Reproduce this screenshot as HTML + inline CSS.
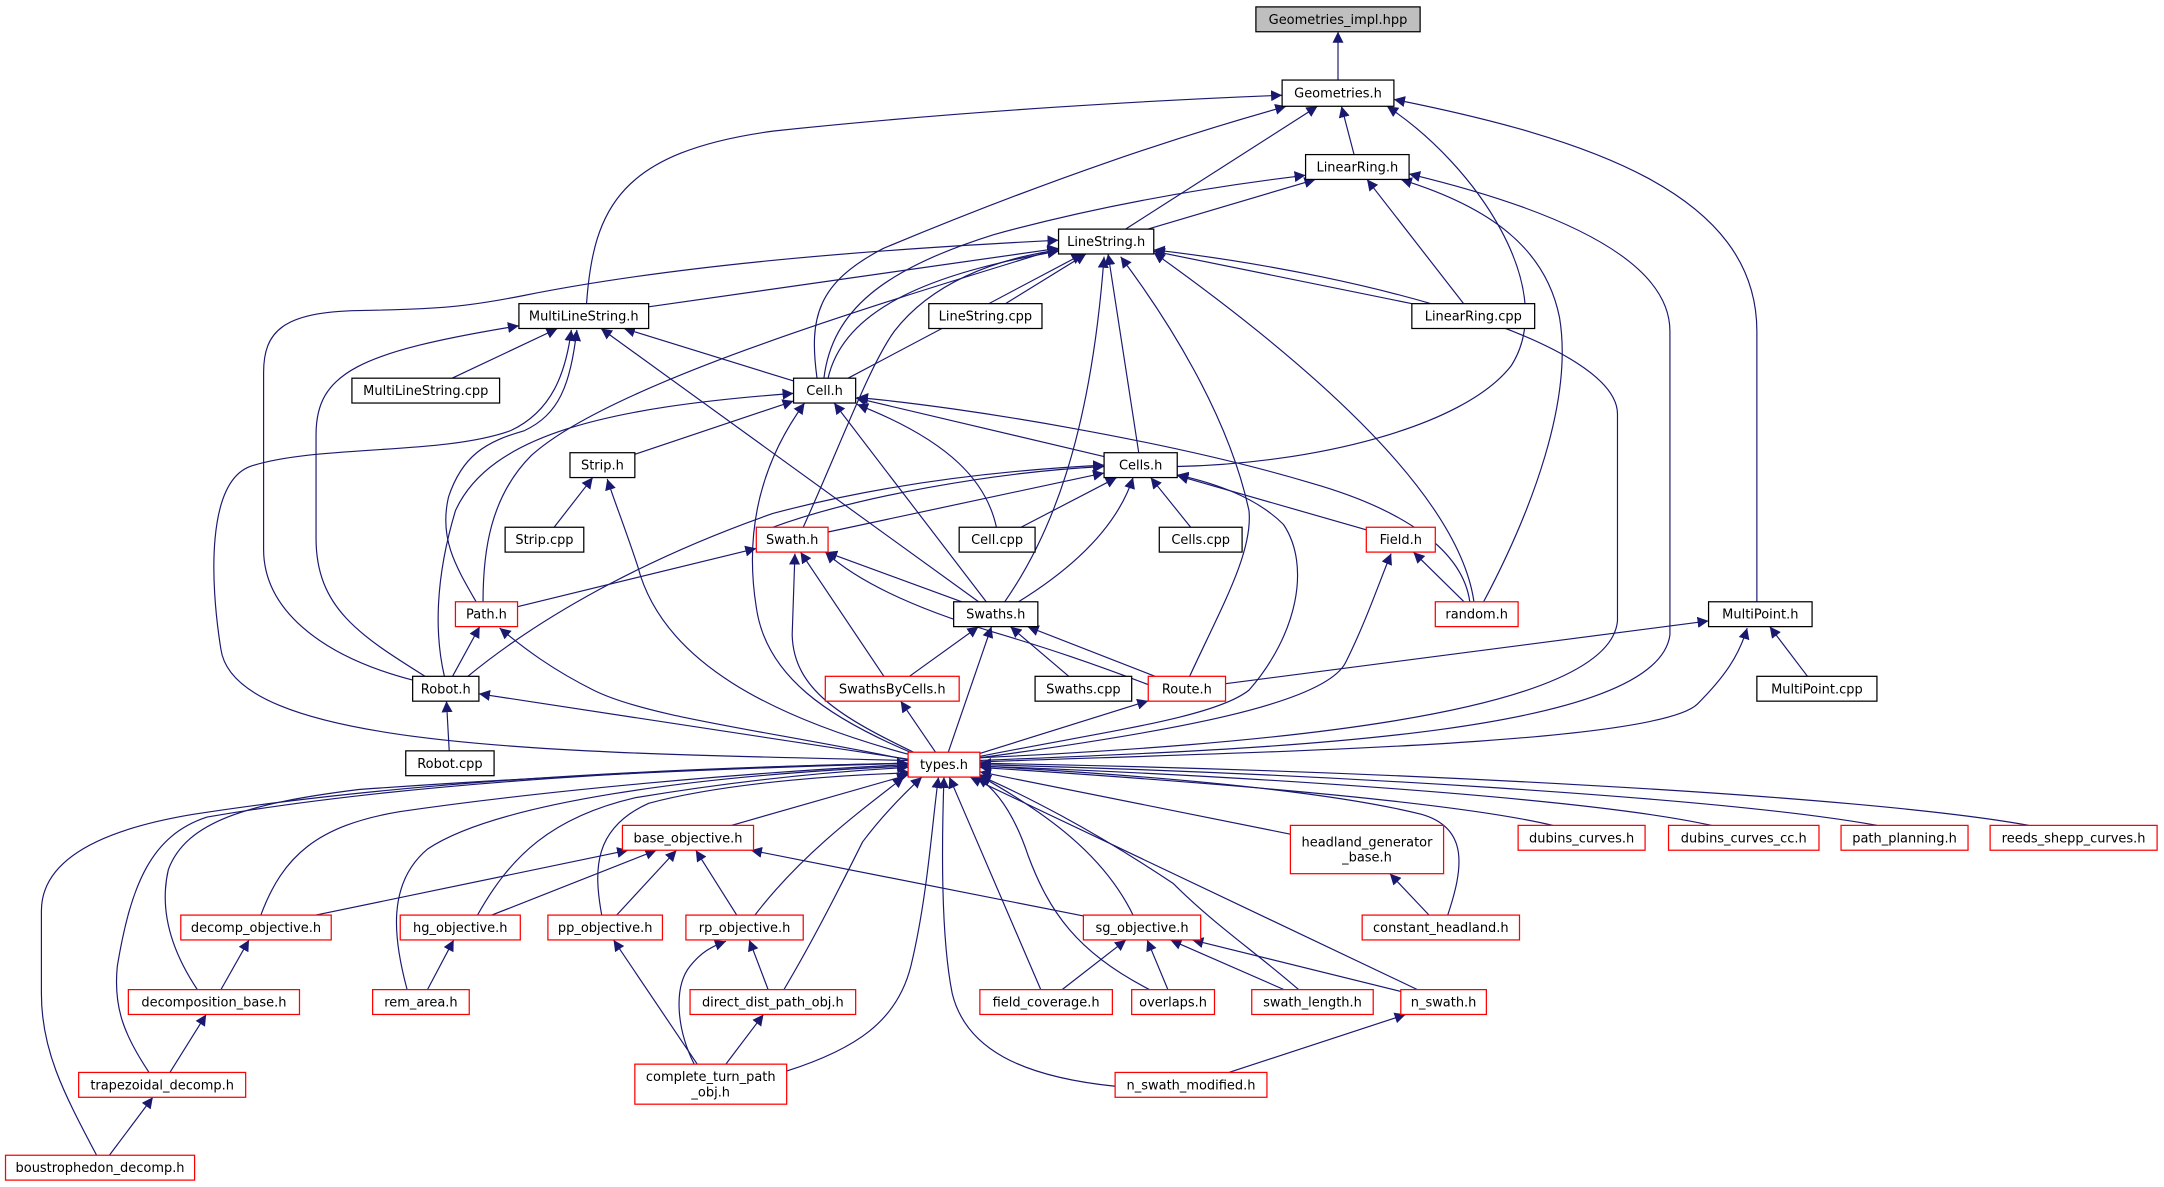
<!DOCTYPE html>
<html><head><meta charset="utf-8"><style>
html,body{margin:0;padding:0;background:#fff;}
svg{display:block;}
text{font-family:"DejaVu Sans","Liberation Sans",sans-serif;font-size:9.4px;fill:#000;}
</style></head><body>
<svg id="g" width="2164" height="1187" viewBox="0 0 1568 860" preserveAspectRatio="none" xmlns="http://www.w3.org/2000/svg">
<defs><marker id="ah" viewBox="0 0 10 10" refX="10" refY="5" markerWidth="8" markerHeight="8" markerUnits="userSpaceOnUse" orient="auto"><path d="M0,0 L10,5 L0,10 z" fill="#191970"/></marker></defs>
<g id="edges"></g><g id="nodes"></g>
</svg>
<script>
var N={
GI:[910,5,1029,23,"Geometries_impl.hpp",0,1],
GE:[929,58,1010,77,"Geometries.h"],
LR:[946,112,1021,130,"LinearRing.h"],
LS:[767,166,836,184,"LineString.h"],
MLS:[376,220,470,238,"MultiLineString.h"],
LSC:[673,220,755,238,"LineString.cpp"],
LRC:[1023,220,1112,238,"LinearRing.cpp"],
MLSC:[255,274,362,292,"MultiLineString.cpp"],
CE:[575,274,620,292,"Cell.h"],
ST:[413,328,460,346,"Strip.h"],
CS:[800,328,853,346,"Cells.h"],
STC:[366,382,423,400,"Strip.cpp"],
SW:[548,382,600,400,"Swath.h",1],
CEC:[695,382,750,400,"Cell.cpp"],
CSC:[840,382,900,400,"Cells.cpp"],
FI:[990,382,1040,400,"Field.h",1],
PA:[330,436,375,454,"Path.h",1],
SWS:[691,436,752,454,"Swaths.h"],
RA:[1040,436,1100,454,"random.h",1],
MP:[1238,436,1313,454,"MultiPoint.h"],
RO:[299,490,347,508,"Robot.h"],
SBC:[598,490,695,508,"SwathsByCells.h",1],
SWC:[750,490,820,508,"Swaths.cpp"],
RT:[832,490,888,508,"Route.h",1],
MPC:[1273,490,1360,508,"MultiPoint.cpp"],
ROC:[294,544,358,562,"Robot.cpp"],
TY:[658,545,710,563,"types.h",1],
BO:[451,598,546,616,"base_objective.h",1],
HG:[935,598,1046,633,"headland_generator|_base.h",1],
DC:[1100,598,1192,616,"dubins_curves.h",1],
DCC:[1209,598,1318,616,"dubins_curves_cc.h",1],
PP:[1334,598,1426,616,"path_planning.h",1],
RS:[1442,598,1563,616,"reeds_shepp_curves.h",1],
DO:[131,663,240,681,"decomp_objective.h",1],
HGO:[290,663,377,681,"hg_objective.h",1],
PPO:[397,663,480,681,"pp_objective.h",1],
RPO:[497,663,582,681,"rp_objective.h",1],
SGO:[785,663,870,681,"sg_objective.h",1],
CH:[987,663,1101,681,"constant_headland.h",1],
DB:[93,717,217,735,"decomposition_base.h",1],
RE:[270,717,340,735,"rem_area.h",1],
DD:[500,717,620,735,"direct_dist_path_obj.h",1],
FC:[710,717,806,735,"field_coverage.h",1],
OV:[820,717,880,735,"overlaps.h",1],
SL:[907,717,995,735,"swath_length.h",1],
NS:[1015,717,1077,735,"n_swath.h",1],
TD:[57,777,178,795,"trapezoidal_decomp.h",1],
CT:[460,771,570,800,"complete_turn_path|_obj.h",1],
NSM:[808,777,918,795,"n_swath_modified.h",1],
BD:[4,837,141,855,"boustrophedon_decomp.h",1]
};
var E=[
["GI","GE"],["GE","LR"],["GE","LS"],
["GE","MLS","M425,220 C430,150 450,110 560,95 C700,80 850,72 929,69"],
["GE","CE","M592,274 C586,230 592,205 640,180 C760,130 850,100 932,77"],
["GE","CS","M853,338 C950,336 1060,310 1095,265 C1130,210 1070,120 1005,77"],
["GE","MP","M1273,436 L1273,240 C1273,140 1150,100 1010,72"],
["LR","LS"],["LR","LRC"],
["LR","CE","M597,274 C603,225 640,195 720,170 C800,148 880,135 946,127"],
["LR","RA","M1075,436 C1110,370 1140,290 1130,230 C1120,180 1080,150 1015,130"],
["LR","TY","M710,551 C900,543 1200,535 1210,460 L1210,240 C1210,180 1100,145 1021,126"],
["LS","MLS"],["LS","LSC"],["LS","LRC"],["LS","CE"],["LS","CS"],
["LS","CE","M600,274 C610,230 660,200 767,182"],
["LS","RO","M300,493 C230,475 191,440 191,398 L191,270 C191,240 205,226 260,225 C320,224 340,222 380,214 C500,190 650,180 767,174"],
["LS","PA","M350,436 C350,400 355,360 385,330 C440,280 620,225 767,180"],
["LS","SW","M582,382 C610,320 630,265 648,240 C675,205 720,188 767,181"],
["LS","SWS","M728,436 C760,390 790,320 800,186"],
["LS","RT","M862,490 C885,440 908,400 905,370 C890,300 845,230 812,186"],
["LS","RA","M1068,436 C1060,380 1000,300 836,183"],
["LS","TY","M710,549 C900,540 1165,520 1172,450 L1172,300 C1172,250 1000,200 836,181"],
["MLS","MLSC"],["MLS","CE"],["MLS","SWS"],
["MLS","TY","M658,551 C420,545 170,545 160,470 C152,420 150,350 181,338 C230,322 320,330 370,312 C400,298 410,270 414,239"],
["MLS","RO","M308,490 C260,460 229,440 229,390 L229,315 C229,270 260,255 376,236"],
["MLS","PA","M345,436 C330,410 318,390 325,360 C335,330 352,320 380,312 C405,300 413,280 418,239"],
["CE","ST"],["CE","CS"],["CE","SWS"],
["CE","RO","M322,490 C315,460 315,420 330,370 C355,315 440,295 575,285"],
["CE","RA","M1065,436 C1060,400 1020,370 950,350 C850,320 700,295 621,288"],
["CE","CEC","M722,382 C715,350 690,320 621,293"],
["CE","TY","M662,546 C600,520 555,490 548,440 C540,390 548,340 583,292"],
["ST","STC"],
["ST","TY","M660,547 C560,520 480,480 462,410 C452,380 444,360 440,347"],
["CS","SW"],["CS","CEC"],["CS","CSC"],["CS","FI"],
["CS","SW","M560,382 C620,360 720,342 800,338"],
["CS","SWS","M738,436 C780,410 810,380 821,346"],
["CS","RO","M339,490 C400,440 480,400 560,372 C650,348 740,340 800,337"],
["CS","TY","M710,548 C800,530 880,520 905,500 C940,460 950,410 930,380 C910,360 880,350 853,344"],
["SW","PA"],["SW","SWS"],["SW","SBC"],
["SW","RT","M832,496 C790,480 760,470 720,458 C660,440 620,420 598,400"],
["SW","TY","M664,546 C610,520 575,500 574,460 L576,401"],
["FI","RA"],
["FI","TY","M710,549 C850,530 960,510 975,480 C990,450 1000,420 1008,401"],
["PA","RO"],
["PA","TY","M660,551 C560,530 470,520 430,500 C400,485 380,470 362,455"],
["SWS","SBC"],["SWS","SWC"],["SWS","RT"],["SWS","TY"],
["MP","RT"],["MP","MPC"],
["MP","TY","M710,552 C900,545 1200,540 1230,510 C1250,490 1260,475 1266,455"],
["RO","ROC"],["RO","TY"],["SBC","TY"],["RT","TY"],
["TY","BO"],["TY","HG"],["TY","FC"],["TY","NS"],
["TY","DC","M1125,598 C1050,580 850,565 710,556"],
["TY","DCC","M1240,598 C1150,578 900,562 710,555"],
["TY","PP","M1360,598 C1250,578 950,560 710,554"],
["TY","RS","M1470,598 C1350,576 1000,558 710,553"],
["TY","BD","M70,837 C45,790 30,760 30,720 L30,660 C30,620 80,600 140,590 C300,565 500,556 658,553"],
["TY","TD","M108,777 C90,750 82,730 85,700 C95,640 110,605 150,592 C300,566 500,556 658,553"],
["TY","DB","M143,717 C125,690 115,660 122,630 C135,595 180,582 260,572 C400,562 550,556 658,553"],
["TY","DO","M189,663 C205,620 230,598 290,588 C400,572 550,559 658,554"],
["TY","RE","M295,717 C285,680 280,640 310,615 C360,582 500,562 658,555"],
["TY","HGO","M346,663 C370,620 400,592 460,578 C550,563 620,558 658,556"],
["TY","PPO","M436,663 C430,630 430,600 470,582 C530,566 620,561 660,560"],
["TY","RPO","M547,663 C580,620 620,590 655,563"],
["TY","DD","M568,717 C590,680 610,640 625,610 C640,590 655,575 668,563"],
["TY","CT","M570,776 C620,760 650,740 660,700 C672,650 675,600 680,563"],
["TY","NSM","M808,787 C740,780 700,760 690,720 C682,680 682,620 684,563"],
["TY","SL","M941,717 C910,690 880,670 850,640 C790,600 740,575 710,562"],
["TY","OV","M833,717 C780,690 760,660 745,620 C735,590 722,572 708,563"],
["TY","SGO","M821,663 C800,620 760,590 708,561"],
["TY","CH","M1049,663 C1060,630 1065,600 1030,590 C950,570 800,560 710,555"],
["BO","DO"],["BO","HGO"],["BO","PPO"],["BO","RPO"],["BO","SGO"],
["HG","CH"],["DO","DB"],["HGO","RE"],["PPO","CT"],["RPO","DD"],["DD","CT"],
["RPO","CT","M503,771 C490,745 488,715 500,700 C508,690 515,686 526,682"],
["SGO","FC"],["SGO","OV"],["SGO","SL"],["SGO","NS"],["NS","NSM"],["DB","TD"],["TD","BD"]
];
function c(n){return [(n[0]+n[2])/2,(n[1]+n[3])/2];}
function clip(n,p){var C=c(n),dx=p[0]-C[0],dy=p[1]-C[1],hw=(n[2]-n[0])/2,hh=(n[3]-n[1])/2;
 var t=Math.min(dx?hw/Math.abs(dx):1e9,dy?hh/Math.abs(dy):1e9);if(t>1)t=1;return [C[0]+dx*t,C[1]+dy*t];}
var ns="http://www.w3.org/2000/svg",eg=document.getElementById("edges"),ng=document.getElementById("nodes");
E.forEach(function(e){
 var P=N[e[0]],Ch=N[e[1]],d=e[2];
 if(!d){var s=clip(Ch,c(P)),t=clip(P,c(Ch));d="M"+s[0]+","+s[1]+" L"+t[0]+","+t[1];}
 var p=document.createElementNS(ns,"path");p.setAttribute("d",d);p.setAttribute("fill","none");
 p.setAttribute("stroke","#191970");p.setAttribute("stroke-width","0.85");p.setAttribute("marker-end","url(#ah)");eg.appendChild(p);
});
for(var k in N){var n=N[k];
 var r=document.createElementNS(ns,"rect");r.setAttribute("x",n[0]);r.setAttribute("y",n[1]);
 r.setAttribute("width",n[2]-n[0]);r.setAttribute("height",n[3]-n[1]);
 r.setAttribute("fill",n[6]?"#bfbfbf":"#fff");r.setAttribute("stroke",n[5]?"#ff0000":"#000");r.setAttribute("stroke-width","0.9");ng.appendChild(r);
 var lines=n[4].split("|"),cx=(n[0]+n[2])/2,cy=(n[1]+n[3])/2;
 lines.forEach(function(l,i){var tx=document.createElementNS(ns,"text");tx.setAttribute("x",cx);
  tx.setAttribute("y",cy+3.3+(i-(lines.length-1)/2)*11);tx.setAttribute("text-anchor","middle");tx.textContent=l;ng.appendChild(tx);});
}
</script>
</body></html>
